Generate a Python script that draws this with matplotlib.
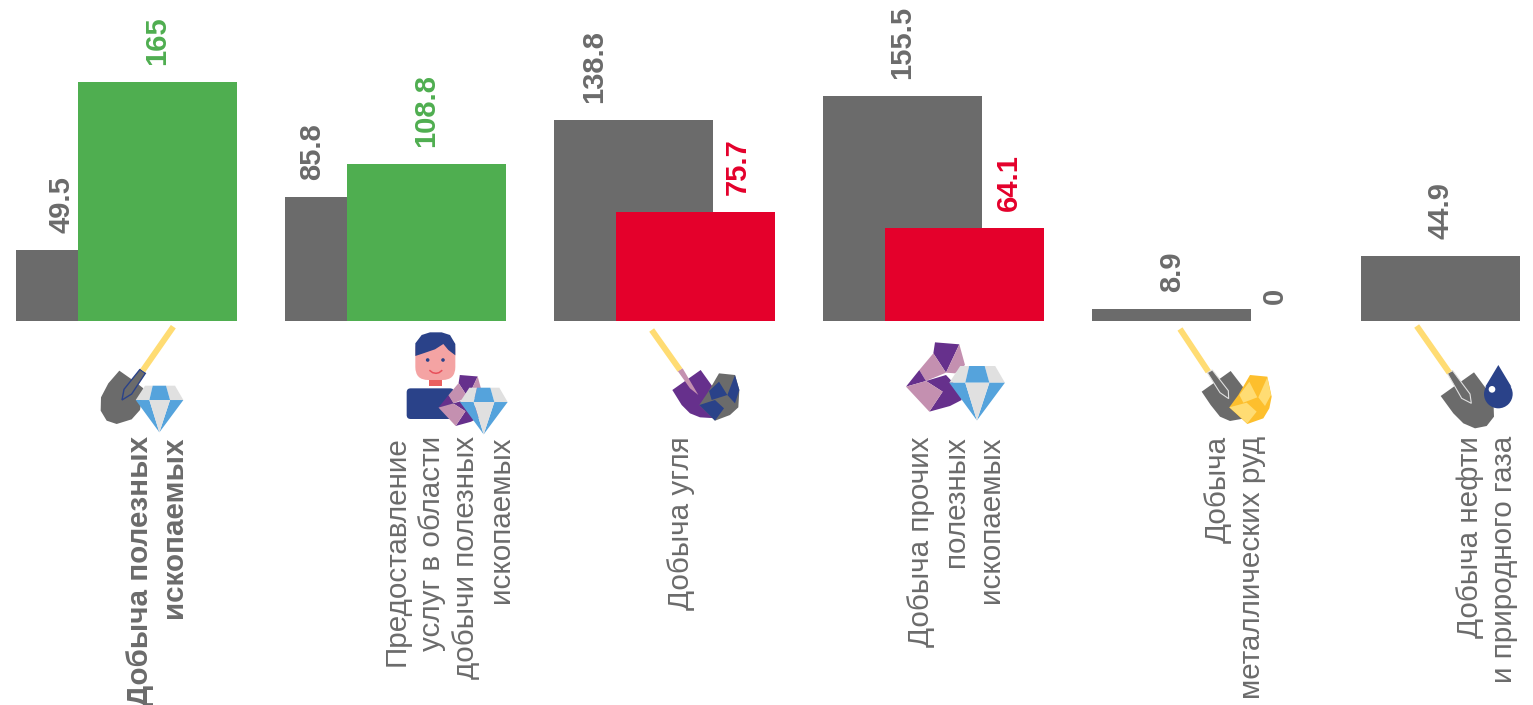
import matplotlib
matplotlib.use('Agg')
import matplotlib.pyplot as plt
from matplotlib.patches import Polygon, Circle, FancyBboxPatch, Rectangle

plt.rcParams['font.family'] = ['Liberation Sans', 'DejaVu Sans']

# chart data
categories = [
    'Добыча полезных\nископаемых',
    'Предоставление\nуслуг в области\nдобычи полезных\nископаемых',
    'Добыча угля',
    'Добыча прочих\nполезных\nископаемых',
    'Добыча\nметаллических руд',
    'Добыча нефти\nи природного газа',
]
values_before = [49.5, 85.8, 138.8, 155.5, 8.9, 44.9]
values_after = [165, 108.8, 75.7, 64.1, 0, None]

GRAY = '#6b6b6b'
GREEN = '#4fae50'
RED = '#e4002b'
NAVY = '#2a4289'
SKY = '#55a3dc'
LIGHT = '#e0e0e0'
PURPLE = '#66308c'
PINK = '#c490b0'
YELLOW = '#ffdc73'
GOLD = '#fdbf2d'

# label x shift from the bar centre (px), these are hand placed in the original
before_label_shift = [-34, -52, -39, 0, 1, 0]
after_label_shift = [0, 0, 42, 44, 41, 0]
after_colors = [GREEN, GREEN, RED, RED, RED, RED]
cat_label_x = [157, 449, 681, 956, 1235, 1487]

PX_GROUP = 269.0
PX_BAR = 159.0
PX_OFFSET = 62.0
PX_UNIT = 1.4515
BASE_Y = 321.5

fig = plt.figure(figsize=(15.33, 7.05), dpi=100)
ax = fig.add_axes([0, 0, 1, 1])
ax.set_xlim(-16 / PX_GROUP, (1533 - 16) / PX_GROUP)
ax.set_ylim(-(705 - BASE_Y) / PX_UNIT, BASE_Y / PX_UNIT)
ax.axis('off')

bar_w = PX_BAR / PX_GROUP
shift = PX_OFFSET / PX_GROUP
px = 72 / fig.dpi

for i, v in enumerate(values_before):
    ax.bar(i, v, width=bar_w, align='edge', color=GRAY, zorder=2)
    ax.annotate(str(v), (i + bar_w / 2, v), xytext=(before_label_shift[i] * px, 17 * px),
                textcoords='offset points', rotation=90, ha='center', va='bottom',
                fontsize=21, fontweight='bold', color=GRAY)

for i, v in enumerate(values_after):
    if v is None:
        continue
    ax.bar(i + shift, v, width=bar_w, align='edge', color=after_colors[i], zorder=3)
    ax.annotate(str(v), (i + shift + bar_w / 2, v), xytext=(after_label_shift[i] * px, 17 * px),
                textcoords='offset points', rotation=90, ha='center', va='bottom',
                fontsize=21, fontweight='bold', color=GRAY if v == 0 else after_colors[i])

# overlay in pixel coordinates for the category captions and the little icons
ov = fig.add_axes([0, 0, 1, 1], zorder=5)
ov.set_xlim(0, 1533)
ov.set_ylim(705, 0)
ov.axis('off')
ov.patch.set_alpha(0)

for i, cat in enumerate(categories):
    ov.text(cat_label_x[i], 436, cat, rotation=90, ha='center', va='top',
            multialignment='right', fontsize=21.3, color=GRAY, linespacing=1.3,
            fontweight='bold' if i == 0 else 'normal')


def poly(pts, color, ox, oy, s=1 / 3, ec='none', lw=0):
    ov.add_patch(Polygon([(ox + x * s, oy + y * s) for x, y in pts], closed=True,
                         fc=color, ec=ec, lw=lw))


def handle(p0, p1, color, ox, oy, lw=5):
    ov.plot([ox + p0[0] / 3, ox + p1[0] / 3], [oy + p0[1] / 3, oy + p1[1] / 3],
            color=color, lw=lw * px, solid_capstyle='butt')


def gem(ox, oy, s=1 / 3):
    poly([(28, 0), (51, 0), (41, 43), (0, 43)], LIGHT, ox, oy, s)
    poly([(91, 0), (118, 0), (143, 43), (103, 43)], LIGHT, ox, oy, s)
    poly([(51, 0), (91, 0), (103, 43), (41, 43)], SKY, ox, oy, s)
    poly([(0, 43), (41, 43), (71, 140)], SKY, ox, oy, s)
    poly([(103, 43), (143, 43), (71, 140)], SKY, ox, oy, s)
    poly([(41, 43), (103, 43), (71, 140)], LIGHT, ox, oy, s)


def crystal(ox, oy, s=1 / 3):
    poly([(87, 0), (160, 6), (120, 91), (82, 33)], PURPLE, ox, oy, s)
    poly([(160, 6), (177, 68), (147, 93), (120, 91)], PINK, ox, oy, s)
    poly([(82, 33), (120, 91), (60, 116), (40, 83)], PINK, ox, oy, s)
    poly([(40, 83), (60, 116), (0, 133)], PURPLE, ox, oy, s)
    poly([(60, 116), (120, 98), (162, 143), (167, 173), (132, 191), (70, 208), (110, 148)],
         PURPLE, ox, oy, s)
    poly([(0, 133), (60, 116), (110, 148), (70, 208)], PINK, ox, oy, s)


# icon 1: shovel and diamond
ox, oy = 90, 320
handle((250, 20), (158, 152), YELLOW, ox, oy, 6)
poly([(88, 152), (135, 185), (160, 205), (150, 270), (125, 298), (80, 312), (50, 302),
      (32, 272), (33, 232), (55, 190)], GRAY, ox, oy)
poly([(150, 148), (166, 160), (125, 222), (96, 240), (102, 208)], GRAY, ox, oy, ec=NAVY, lw=1)
gem(135.7, 385.7)

# icon 2: person, rock and diamond
ov.add_patch(FancyBboxPatch((ox + 950 / 3, oy + 205 / 3), 142 / 3, 92 / 3,
                            boxstyle='round,pad=0,rounding_size=4', fc=NAVY, ec='none'))
ov.add_patch(Rectangle((ox + 1018 / 3, oy + 175 / 3), 38 / 3, 22 / 3, fc='#ea6060', ec='none'))
ov.add_patch(FancyBboxPatch((ox + 976 / 3, oy + 50 / 3), 120 / 3, 130 / 3,
                            boxstyle='round,pad=0,rounding_size=13', fc='#f4a3a3', ec='none'))
poly([(976, 108), (976, 70), (995, 45), (1020, 37), (1055, 37), (1080, 45), (1096, 72),
      (1096, 106), (1075, 90), (1060, 72), (1035, 88), (1000, 100)], NAVY, ox, oy)
ov.add_patch(Circle((ox + 1013 / 3, oy + 120 / 3), 1.8, fc=NAVY, ec='none'))
ov.add_patch(Circle((ox + 1059 / 3, oy + 120 / 3), 1.8, fc=NAVY, ec='none'))
ov.plot([ox + x / 3 for x in (1020, 1028, 1038, 1047, 1055)],
        [oy + y / 3 for y in (152, 158, 160, 158, 152)], color='#e8505b', lw=1.1)
crystal(438.5, 375, 0.245)
gem(460, 387.7)

# icon 3: coal
ox, oy = 640, 320
handle((35, 30), (120, 150), YELLOW, ox, oy, 6)
poly([(97, 210), (182, 150), (225, 210), (230, 295), (180, 292), (150, 280), (125, 255)],
     PURPLE, ox, oy)
poly([(113, 153), (128, 145), (175, 225), (150, 205)], PINK, ox, oy)
poly([(237, 160), (285, 165), (298, 210), (295, 262), (270, 285), (225, 302), (178, 255),
      (205, 215)], GRAY, ox, oy)
poly([(237, 185), (262, 225), (215, 240), (207, 213)], NAVY, ox, oy)
poly([(285, 165), (298, 210), (285, 250), (262, 225)], NAVY, ox, oy)
poly([(178, 255), (225, 240), (252, 265), (225, 302)], NAVY, ox, oy)

# icon 4: rock and diamond
crystal(640 + 798 / 3, 320 + 67 / 3)
gem(949.3, 366, 0.389)

# icon 5: shovel and ore
ox, oy = 1170, 320
handle((30, 27), (115, 155), YELLOW, ox, oy, 6)
poly([(95, 215), (182, 153), (222, 205), (225, 295), (180, 303), (150, 290), (122, 255)],
     GRAY, ox, oy)
poly([(112, 158), (127, 150), (175, 212), (176, 236), (150, 218)], GRAY, ox, oy, ec=LIGHT, lw=0.8)
poly([(240, 165), (292, 170), (305, 230), (298, 265), (280, 295), (232, 312), (178, 262),
      (205, 225)], GOLD, ox, oy)
poly([(238, 185), (262, 232), (220, 248), (208, 225)], YELLOW, ox, oy)
poly([(292, 172), (303, 225), (285, 258), (265, 232)], YELLOW, ox, oy)
poly([(178, 262), (230, 248), (260, 275), (232, 310)], YELLOW, ox, oy)

# icon 6: shovel and oil drop
handle((740, 18), (838, 158), YELLOW, ox, oy, 6)
poly([(812, 228), (912, 157), (970, 235), (972, 290), (950, 318), (915, 325), (880, 310),
      (850, 280)], GRAY, ox, oy)
poly([(832, 160), (848, 152), (900, 222), (904, 250), (875, 235)], GRAY, ox, oy, ec=LIGHT, lw=0.8)
poly([(985, 135), (1024, 200), (946, 200)], NAVY, ox, oy)
ov.add_patch(Circle((ox + 985 / 3, oy + 222 / 3), 43 / 3, fc=NAVY, ec='none'))
ov.add_patch(Circle((ox + 966 / 3, oy + 208 / 3), 10 / 3, fc='white', ec='none'))

fig.savefig('out.png', dpi=100)
